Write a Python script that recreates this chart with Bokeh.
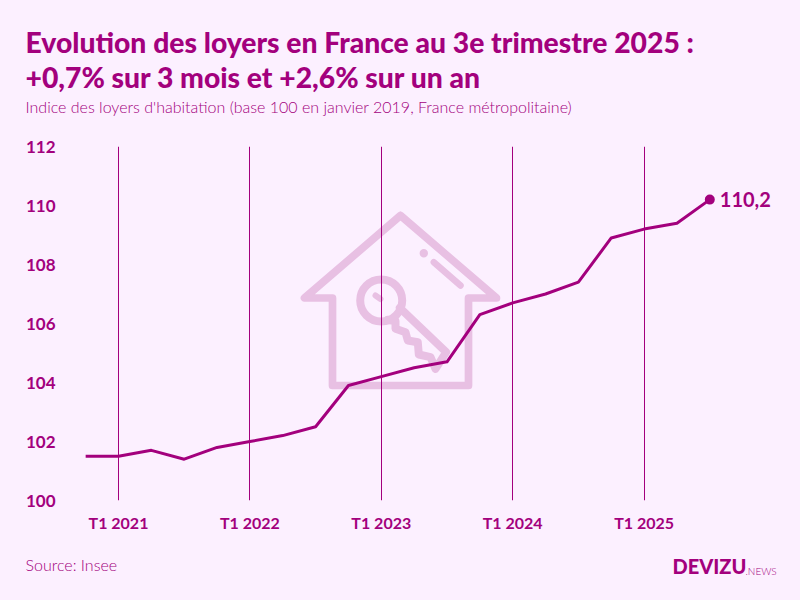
from bokeh.plotting import figure
from bokeh.layouts import column
from bokeh.models import Range1d, FixedTicker
from bokeh.core.properties import value
from bokeh.embed import file_html
from bokeh.resources import INLINE

# ---- data -------------------------------------------------------------
quarters = list(range(20))          # 0 = T4 2020 ... 19 = T3 2025
index_values = [101.5, 101.5, 101.7, 101.4, 101.8, 102.0, 102.2, 102.5, 103.9, 104.2,
                104.5, 104.7, 106.3, 106.7, 107.0, 107.4, 108.9, 109.2, 109.4, 110.2]
tick_quarters = [1, 5, 9, 13, 17]
tick_labels = ["T1 2021", "T1 2022", "T1 2023", "T1 2024", "T1 2025"]
y_ticks = [100, 102, 104, 106, 108, 110, 112]
last_label = "110,2"
title_lines = ["Evolution des loyers en France au 3e trimestre 2025 :",
               "+0,7% sur 3 mois et +2,6% sur un an"]
subtitle = "Indice des loyers d'habitation (base 100 en janvier 2019, France métropolitaine)"
source_text = "Source: Insee"
logo_main = "DEVIZU"
logo_tail = ".NEWS"

INK = "#a3007d"
BG = "#fcf0ff"
ICON = "#e8c0e3"
FONT = "Lato"

# page geometry (page pixels)
HEADER_END, FOOTER_START = 136, 545
L, R, T, B = 60, 790, 146, 500
Q_PX = 32.85
Q1_PX = 118.0
x0 = 1 + (L - Q1_PX) / Q_PX
x1 = 1 + (R - Q1_PX) / Q_PX


def text_panel(top, bottom):
    f = figure(width=800, height=bottom - top, output_backend="svg", toolbar_location=None,
               x_range=Range1d(0, 800), y_range=Range1d(bottom, top),
               x_axis_type=None, y_axis_type=None,
               background_fill_color=BG, border_fill_color=BG, outline_line_color=None,
               min_border=0, frame_align=False)
    f.grid.visible = False
    return f


def put(f, txt, px, py, size, style="normal", font=FONT):
    f.text([px], [py], text=[txt], text_color=INK, text_font=value(font),
           text_font_style=style, text_font_size=size,
           text_align="left", text_baseline="middle")


header = text_panel(0, HEADER_END)
put(header, title_lines[0], 25, 41, "28.3px", "bold", "Lato Black")
put(header, title_lines[1], 25, 76, "28.3px", "bold", "Lato Black")
put(header, subtitle, 25, 106, "16px", "normal", "Lato Light")

p = figure(width=800, height=FOOTER_START - HEADER_END, output_backend="svg", toolbar_location=None,
           x_range=Range1d(x0, x1), y_range=Range1d(100, 112),
           background_fill_color=BG, border_fill_color=BG, outline_line_color=None,
           min_border_left=L, min_border_right=800 - R,
           min_border_top=T - HEADER_END, min_border_bottom=FOOTER_START - B,
           frame_align=False)

# axes
p.xaxis.ticker = FixedTicker(ticks=tick_quarters)
p.xaxis.major_label_overrides = dict(zip(tick_quarters, tick_labels))
p.yaxis.ticker = FixedTicker(ticks=y_ticks)
for ax in (p.xaxis[0], p.yaxis[0]):
    ax.axis_line_color = None
    ax.major_tick_line_color = None
    ax.minor_tick_line_color = None
    ax.major_tick_out = 0
    ax.major_tick_in = 0
    ax.major_label_text_color = INK
    ax.major_label_text_font = FONT
    ax.major_label_text_font_style = "bold"
p.xaxis.major_label_text_font_size = "16px"
p.yaxis.major_label_text_font_size = "17px"
p.xaxis.major_label_standoff = 12
p.yaxis.major_label_standoff = 5

p.ygrid.grid_line_color = None
p.xgrid.grid_line_color = INK
p.xgrid.grid_line_width = 1
p.xgrid.ticker = FixedTicker(ticks=tick_quarters)

# ---- watermark icon, in page pixels -----------------------------------
p.extra_x_ranges["px"] = Range1d(L, R)
p.extra_y_ranges["px"] = Range1d(B, T)
icon_paths = [
    ([400, 304, 332, 332, 468, 468, 496, 400], [215, 297.5, 297.5, 385, 385, 297.5, 297.5, 215], 7.7),
    ([433.3, 460], [261.7, 285], 6.5),
    ([375, 380], [295, 298.5], 6),
    ([399.3, 445.7, 435, 430, 418.3, 417.3, 407.3, 405, 395, 395, 387.3],
     [307.3, 351.7, 368.3, 356.7, 354, 341.7, 340, 331.7, 328.3, 320.7, 319.3], 8),
]
for xs, ys, w in icon_paths:
    p.line(xs, ys, line_color=ICON, line_width=w, line_cap="round", line_join="round",
           x_range_name="px", y_range_name="px", level="image")
p.circle([423.3], [252.7], radius=4.2, fill_color=ICON, line_color=None,
         x_range_name="px", y_range_name="px", level="image")
p.circle([380.7], [300], radius=21, fill_color=None, line_color=ICON, line_width=8,
         x_range_name="px", y_range_name="px", level="image")

# ---- series -----------------------------------------------------------
p.line(quarters, index_values, line_color=INK, line_width=3, line_join="round")
p.scatter(quarters[-1:], index_values[-1:], size=10, fill_color=INK, line_color=None)
p.text(quarters[-1:], index_values[-1:], text=[last_label], x_offset=10,
       text_color=INK, text_font=value(FONT), text_font_style="bold",
       text_font_size="20px", text_align="left", text_baseline="middle")

footer = text_panel(FOOTER_START, 600)
put(footer, source_text, 25, 564, "16px", "normal", "Lato Light")
put(footer, logo_main, 672, 565, "20px", "bold", "Lato Black")
put(footer, logo_tail, 745, 570, "10px", "normal", "Lato Light")

html = file_html(column(header, p, footer, spacing=0), INLINE)
html = html.replace("<head>", "<head><style>html,body{background:%s;}</style>" % BG, 1)
open("out.html", "w").write(html)
